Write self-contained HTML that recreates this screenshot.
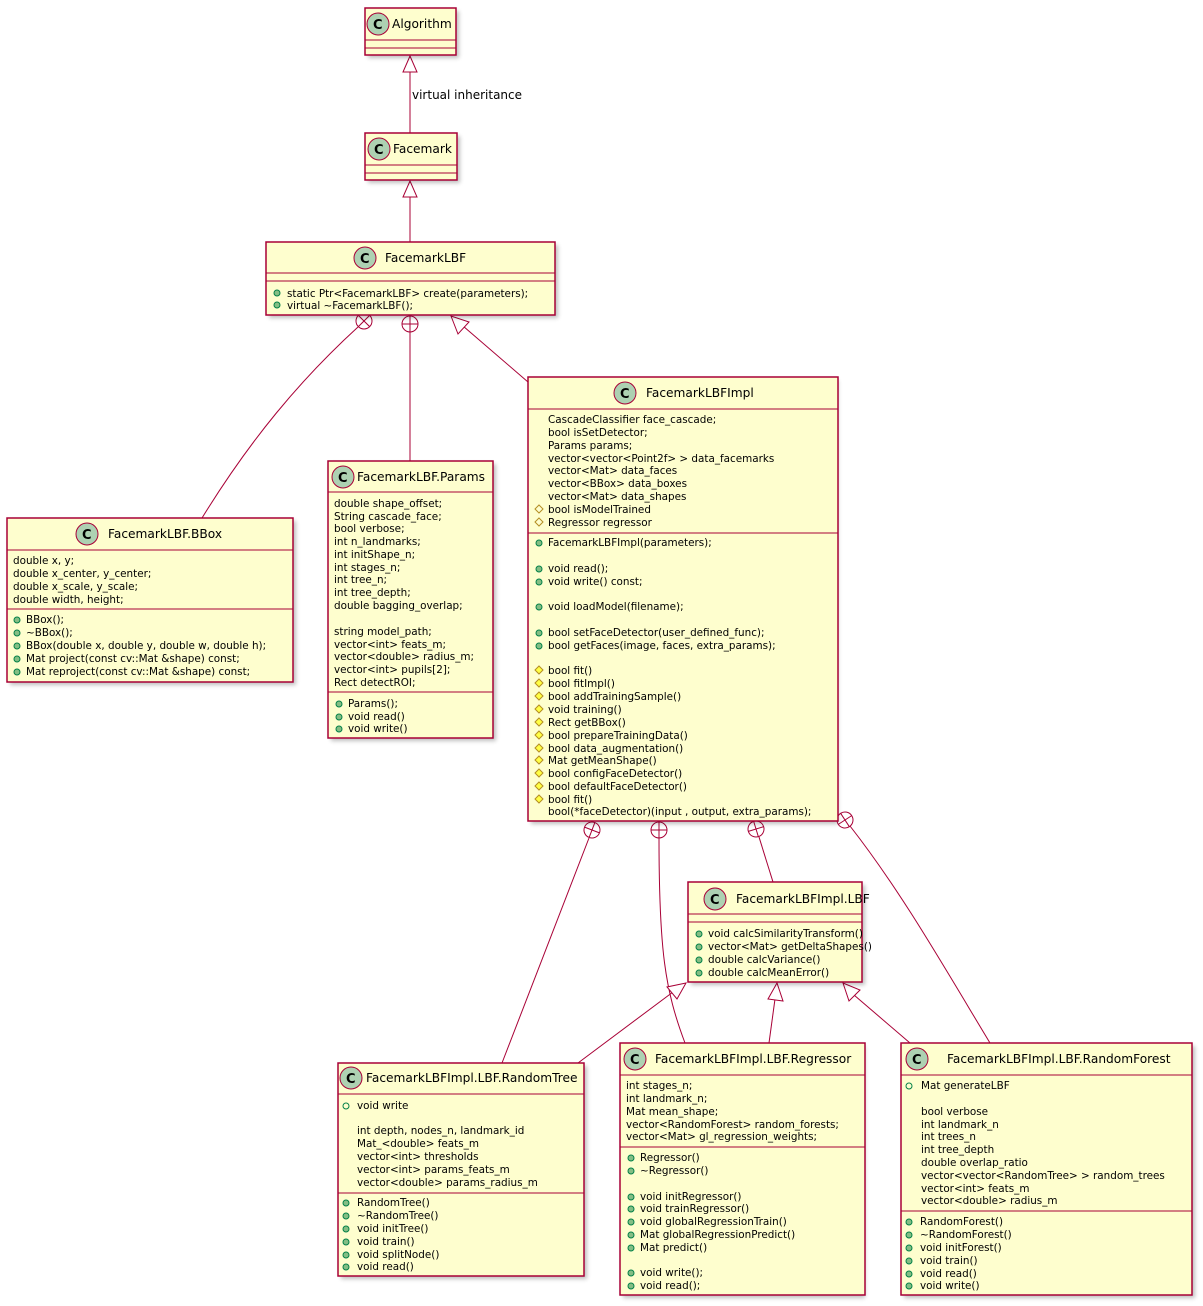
<!DOCTYPE html>
<html><head><meta charset="utf-8">
<style>
html,body{margin:0;padding:0;background:#fff;}
svg{display:block;}
text{font-family:"DejaVu Sans","Liberation Sans",sans-serif;font-size:10.4px;fill:#000;}
.h{font-size:12.2px;}
.c{font-size:13px;font-weight:bold;}
.box{fill:#FEFECE;stroke:#A80036;stroke-width:1.5;}
.sh{fill:#000;opacity:0.25;filter:url(#blur);}
.ln{stroke:#A80036;stroke-width:1;fill:none;}
.ic{fill:#ADD1B2;stroke:#A80036;stroke-width:1;}
.pm{fill:#84BE84;stroke:#038048;stroke-width:1;}
.pf{fill:none;stroke:#038048;stroke-width:1;}
.dm{fill:#FFFF44;stroke:#B38D22;stroke-width:1;}
.df{fill:none;stroke:#B38D22;stroke-width:1;}
.tri{fill:#fff;stroke:#A80036;stroke-width:1;}
.nc{fill:#fff;stroke:#A80036;stroke-width:1;}
</style></head><body>
<svg width="1203" height="1306" viewBox="0 0 1203 1306" xmlns="http://www.w3.org/2000/svg">
<defs>
<filter id="blur" x="-10%" y="-10%" width="120%" height="120%"><feGaussianBlur stdDeviation="2"/></filter>
<g id="pm"><circle cx="0" cy="0" r="3" class="pm"/></g>
<g id="pf"><circle cx="0" cy="0" r="3" class="pf"/></g>
<g id="dm"><polygon points="0,-4 4,0 0,4 -4,0" class="dm"/></g>
<g id="df"><polygon points="0,-4 4,0 0,4 -4,0" class="df"/></g>
</defs>

<!-- connectors -->
<line class="ln" x1="410" y1="72" x2="410" y2="133"/>
<polygon class="tri" points="410,56 403,72 417,72"/>
<text x="412" y="99" style="font-size:12px">virtual inheritance</text>

<line class="ln" x1="410" y1="197" x2="410" y2="242"/>
<polygon class="tri" points="410,181 403,197 417,197"/>

<path class="ln" d="M358,327 C300,380 250,440 202,518"/>
<g transform="translate(364,321) rotate(45)"><circle class="nc" r="8"/><line class="ln" x1="-8" y1="0" x2="8" y2="0"/><line class="ln" x1="0" y1="-8" x2="0" y2="8"/></g>

<line class="ln" x1="410" y1="332" x2="410" y2="461"/>
<g transform="translate(410,324)"><circle class="nc" r="8"/><line class="ln" x1="-8" y1="0" x2="8" y2="0"/><line class="ln" x1="0" y1="-8" x2="0" y2="8"/></g>

<line class="ln" x1="463" y1="326" x2="528" y2="382"/>
<polygon class="tri" points="451,316 458,334 469,322"/>

<line class="ln" x1="589" y1="838" x2="502" y2="1063"/>
<g transform="translate(592,830) rotate(21)"><circle class="nc" r="8"/><line class="ln" x1="-8" y1="0" x2="8" y2="0"/><line class="ln" x1="0" y1="-8" x2="0" y2="8"/></g>

<path class="ln" d="M659,838 C659,950 665,990 685,1043"/>
<g transform="translate(659,830)"><circle class="nc" r="8"/><line class="ln" x1="-8" y1="0" x2="8" y2="0"/><line class="ln" x1="0" y1="-8" x2="0" y2="8"/></g>

<line class="ln" x1="759" y1="837" x2="773" y2="882"/>
<g transform="translate(756,829) rotate(-17)"><circle class="nc" r="8"/><line class="ln" x1="-8" y1="0" x2="8" y2="0"/><line class="ln" x1="0" y1="-8" x2="0" y2="8"/></g>

<path class="ln" d="M850,826 C900,890 940,960 990,1043"/>
<g transform="translate(845,820) rotate(-33)"><circle class="nc" r="8"/><line class="ln" x1="-8" y1="0" x2="8" y2="0"/><line class="ln" x1="0" y1="-8" x2="0" y2="8"/></g>

<line class="ln" x1="673" y1="992" x2="578" y2="1063"/>
<polygon class="tri" points="686,983 667,987 677,999"/>
<line class="ln" x1="775" y1="999" x2="769" y2="1043"/>
<polygon class="tri" points="777,983 768,999 783,1001"/>
<line class="ln" x1="854" y1="995" x2="910" y2="1043"/>
<polygon class="tri" points="843,983 849,1001 860,990"/>

<!-- Algorithm -->
<rect class="sh" x="368" y="11" width="91" height="47"/>
<rect class="box" x="365" y="8" width="91" height="47"/>
<line class="ln" x1="365" y1="40" x2="456" y2="40"/><line class="ln" x1="365" y1="48" x2="456" y2="48"/>
<circle class="ic" cx="378" cy="24" r="11"/><text class="c" x="373" y="29">C</text>
<text class="h" x="392" y="28">Algorithm</text>

<!-- Facemark -->
<rect class="sh" x="368" y="136" width="92" height="47"/>
<rect class="box" x="365" y="133" width="92" height="47"/>
<line class="ln" x1="365" y1="165" x2="457" y2="165"/><line class="ln" x1="365" y1="173" x2="457" y2="173"/>
<circle class="ic" cx="379" cy="149" r="11"/><text class="c" x="374" y="154">C</text>
<text class="h" x="393" y="153">Facemark</text>

<!-- FacemarkLBF -->
<rect class="sh" x="269" y="245" width="289" height="73"/>
<rect class="box" x="266" y="242" width="289" height="73"/>
<line class="ln" x1="266" y1="273" x2="555" y2="273"/><line class="ln" x1="266" y1="281" x2="555" y2="281"/>
<circle class="ic" cx="365" cy="258" r="11"/><text class="c" x="360" y="263">C</text>
<text class="h" x="385" y="262">FacemarkLBF</text>
<use href="#pm" x="277" y="293"/><text x="287" y="297">static Ptr&lt;FacemarkLBF&gt; create(parameters);</text>
<use href="#pm" x="277" y="305"/><text x="287" y="309">virtual ~FacemarkLBF();</text>

<!-- BBox -->
<rect class="sh" x="10" y="521" width="286" height="164"/>
<rect class="box" x="7" y="518" width="286" height="164"/>
<line class="ln" x1="7" y1="550" x2="293" y2="550"/><line class="ln" x1="7" y1="609" x2="293" y2="609"/>
<circle class="ic" cx="87" cy="534" r="11"/><text class="c" x="82" y="539">C</text>
<text class="h" x="108" y="538">FacemarkLBF.BBox</text>
<text x="13" y="564">double x, y;</text>
<text x="13" y="577">double x_center, y_center;</text>
<text x="13" y="590">double x_scale, y_scale;</text>
<text x="13" y="603">double width, height;</text>
<use href="#pm" x="17" y="620"/><text x="26" y="623">BBox();</text>
<use href="#pm" x="17" y="633"/><text x="26" y="636">~BBox();</text>
<use href="#pm" x="17" y="646"/><text x="26" y="649">BBox(double x, double y, double w, double h);</text>
<use href="#pm" x="17" y="659"/><text x="26" y="662">Mat project(const cv::Mat &amp;shape) const;</text>
<use href="#pm" x="17" y="672"/><text x="26" y="675">Mat reproject(const cv::Mat &amp;shape) const;</text>

<!-- Params -->
<rect class="sh" x="331" y="464" width="165" height="277"/>
<rect class="box" x="328" y="461" width="165" height="277"/>
<line class="ln" x1="328" y1="492" x2="493" y2="492"/><line class="ln" x1="328" y1="692" x2="493" y2="692"/>
<circle class="ic" cx="343" cy="477" r="11"/><text class="c" x="338" y="482">C</text>
<text class="h" x="357" y="481">FacemarkLBF.Params</text>
<text x="334" y="507">double shape_offset;</text>
<text x="334" y="520">String cascade_face;</text>
<text x="334" y="532">bool verbose;</text>
<text x="334" y="545">int n_landmarks;</text>
<text x="334" y="558">int initShape_n;</text>
<text x="334" y="571">int stages_n;</text>
<text x="334" y="583">int tree_n;</text>
<text x="334" y="596">int tree_depth;</text>
<text x="334" y="609">double bagging_overlap;</text>
<text x="334" y="635">string model_path;</text>
<text x="334" y="648">vector&lt;int&gt; feats_m;</text>
<text x="334" y="660">vector&lt;double&gt; radius_m;</text>
<text x="334" y="673">vector&lt;int&gt; pupils[2];</text>
<text x="334" y="686">Rect detectROI;</text>
<use href="#pm" x="339" y="704"/><text x="348" y="707">Params();</text>
<use href="#pm" x="339" y="717"/><text x="348" y="720">void read()</text>
<use href="#pm" x="339" y="729"/><text x="348" y="732">void write()</text>

<!-- Impl -->
<rect class="sh" x="531" y="380" width="307" height="444"/>
<rect class="box" x="528" y="377" width="310" height="444"/>
<line class="ln" x1="528" y1="409" x2="838" y2="409"/><line class="ln" x1="528" y1="533" x2="838" y2="533"/>
<circle class="ic" cx="625" cy="393" r="11"/><text class="c" x="620" y="398">C</text>
<text class="h" x="646" y="397">FacemarkLBFImpl</text>
<text x="548" y="423">CascadeClassifier face_cascade;</text>
<text x="548" y="436">bool isSetDetector;</text>
<text x="548" y="449">Params params;</text>
<text x="548" y="462">vector&lt;vector&lt;Point2f&gt; &gt; data_facemarks</text>
<text x="548" y="474">vector&lt;Mat&gt; data_faces</text>
<text x="548" y="487">vector&lt;BBox&gt; data_boxes</text>
<text x="548" y="500">vector&lt;Mat&gt; data_shapes</text>
<use href="#df" x="539" y="509"/><text x="548" y="513">bool isModelTrained</text>
<use href="#df" x="539" y="522"/><text x="548" y="526">Regressor regressor</text>
<use href="#pm" x="539" y="543"/><text x="548" y="546">FacemarkLBFImpl(parameters);</text>
<use href="#pm" x="539" y="569"/><text x="548" y="572">void read();</text>
<use href="#pm" x="539" y="582"/><text x="548" y="585">void write() const;</text>
<use href="#pm" x="539" y="607"/><text x="548" y="610">void loadModel(filename);</text>
<use href="#pm" x="539" y="633"/><text x="548" y="636">bool setFaceDetector(user_defined_func);</text>
<use href="#pm" x="539" y="646"/><text x="548" y="649">bool getFaces(image, faces, extra_params);</text>
<use href="#dm" x="539" y="670"/><text x="548" y="674">bool fit()</text>
<use href="#dm" x="539" y="683"/><text x="548" y="687">bool fitImpl()</text>
<use href="#dm" x="539" y="696"/><text x="548" y="700">bool addTrainingSample()</text>
<use href="#dm" x="539" y="709"/><text x="548" y="713">void training()</text>
<use href="#dm" x="539" y="722"/><text x="548" y="726">Rect getBBox()</text>
<use href="#dm" x="539" y="735"/><text x="548" y="739">bool prepareTrainingData()</text>
<use href="#dm" x="539" y="748"/><text x="548" y="752">bool data_augmentation()</text>
<use href="#dm" x="539" y="760"/><text x="548" y="764">Mat getMeanShape()</text>
<use href="#dm" x="539" y="773"/><text x="548" y="777">bool configFaceDetector()</text>
<use href="#dm" x="539" y="786"/><text x="548" y="790">bool defaultFaceDetector()</text>
<use href="#dm" x="539" y="799"/><text x="548" y="803">bool fit()</text>
<text x="548" y="815">bool(*faceDetector)(input , output, extra_params);</text>

<!-- LBF -->
<rect class="sh" x="691" y="885" width="174" height="100"/>
<rect class="box" x="688" y="882" width="174" height="100"/>
<line class="ln" x1="688" y1="914" x2="862" y2="914"/><line class="ln" x1="688" y1="922" x2="862" y2="922"/>
<circle class="ic" cx="715" cy="899" r="11"/><text class="c" x="710" y="904">C</text>
<text class="h" x="736" y="903">FacemarkLBFImpl.LBF</text>
<use href="#pm" x="699" y="934"/><text x="708" y="937">void calcSimilarityTransform()</text>
<use href="#pm" x="699" y="947"/><text x="708" y="950">vector&lt;Mat&gt; getDeltaShapes()</text>
<use href="#pm" x="699" y="960"/><text x="708" y="963">double calcVariance()</text>
<use href="#pm" x="699" y="973"/><text x="708" y="976">double calcMeanError()</text>

<!-- RandomTree -->
<rect class="sh" x="341" y="1066" width="246" height="213"/>
<rect class="box" x="338" y="1063" width="246" height="213"/>
<line class="ln" x1="338" y1="1094" x2="584" y2="1094"/><line class="ln" x1="338" y1="1193" x2="584" y2="1193"/>
<circle class="ic" cx="351" cy="1078" r="11"/><text class="c" x="346" y="1083">C</text>
<text class="h" x="366" y="1082">FacemarkLBFImpl.LBF.RandomTree</text>
<use href="#pf" x="346" y="1106"/><text x="357" y="1109">void write</text>
<text x="357" y="1134">int depth, nodes_n, landmark_id</text>
<text x="357" y="1147">Mat_&lt;double&gt; feats_m</text>
<text x="357" y="1160">vector&lt;int&gt; thresholds</text>
<text x="357" y="1173">vector&lt;int&gt; params_feats_m</text>
<text x="357" y="1186">vector&lt;double&gt; params_radius_m</text>
<use href="#pm" x="346" y="1203"/><text x="357" y="1206">RandomTree()</text>
<use href="#pm" x="346" y="1216"/><text x="357" y="1219">~RandomTree()</text>
<use href="#pm" x="346" y="1229"/><text x="357" y="1232">void initTree()</text>
<use href="#pm" x="346" y="1242"/><text x="357" y="1245">void train()</text>
<use href="#pm" x="346" y="1255"/><text x="357" y="1258">void splitNode()</text>
<use href="#pm" x="346" y="1267"/><text x="357" y="1270">void read()</text>

<!-- Regressor -->
<rect class="sh" x="623" y="1046" width="242" height="252"/>
<rect class="box" x="620" y="1043" width="245" height="252"/>
<line class="ln" x1="620" y1="1075" x2="865" y2="1075"/><line class="ln" x1="620" y1="1147" x2="865" y2="1147"/>
<circle class="ic" cx="635" cy="1059" r="11"/><text class="c" x="630" y="1064">C</text>
<text class="h" x="655" y="1063">FacemarkLBFImpl.LBF.Regressor</text>
<text x="626" y="1089">int stages_n;</text>
<text x="626" y="1102">int landmark_n;</text>
<text x="626" y="1115">Mat mean_shape;</text>
<text x="626" y="1128">vector&lt;RandomForest&gt; random_forests;</text>
<text x="626" y="1140">vector&lt;Mat&gt; gl_regression_weights;</text>
<use href="#pm" x="631" y="1158"/><text x="640" y="1161">Regressor()</text>
<use href="#pm" x="631" y="1171"/><text x="640" y="1174">~Regressor()</text>
<use href="#pm" x="631" y="1197"/><text x="640" y="1200">void initRegressor()</text>
<use href="#pm" x="631" y="1209"/><text x="640" y="1212">void trainRegressor()</text>
<use href="#pm" x="631" y="1222"/><text x="640" y="1225">void globalRegressionTrain()</text>
<use href="#pm" x="631" y="1235"/><text x="640" y="1238">Mat globalRegressionPredict()</text>
<use href="#pm" x="631" y="1248"/><text x="640" y="1251">Mat predict()</text>
<use href="#pm" x="631" y="1273"/><text x="640" y="1276">void write();</text>
<use href="#pm" x="631" y="1286"/><text x="640" y="1289">void read();</text>

<!-- RandomForest -->
<rect class="sh" x="904" y="1046" width="291" height="252"/>
<rect class="box" x="901" y="1043" width="291" height="252"/>
<line class="ln" x1="901" y1="1075" x2="1192" y2="1075"/><line class="ln" x1="901" y1="1211" x2="1192" y2="1211"/>
<circle class="ic" cx="917" cy="1059" r="11"/><text class="c" x="912" y="1064">C</text>
<text class="h" x="947" y="1063">FacemarkLBFImpl.LBF.RandomForest</text>
<use href="#pf" x="909" y="1086"/><text x="921" y="1089">Mat generateLBF</text>
<text x="921" y="1115">bool verbose</text>
<text x="921" y="1128">int landmark_n</text>
<text x="921" y="1140">int trees_n</text>
<text x="921" y="1153">int tree_depth</text>
<text x="921" y="1166">double overlap_ratio</text>
<text x="921" y="1179">vector&lt;vector&lt;RandomTree&gt; &gt; random_trees</text>
<text x="921" y="1192">vector&lt;int&gt; feats_m</text>
<text x="921" y="1204">vector&lt;double&gt; radius_m</text>
<use href="#pm" x="909" y="1222"/><text x="920" y="1225">RandomForest()</text>
<use href="#pm" x="909" y="1235"/><text x="920" y="1238">~RandomForest()</text>
<use href="#pm" x="909" y="1248"/><text x="920" y="1251">void initForest()</text>
<use href="#pm" x="909" y="1261"/><text x="920" y="1264">void train()</text>
<use href="#pm" x="909" y="1274"/><text x="920" y="1277">void read()</text>
<use href="#pm" x="909" y="1286"/><text x="920" y="1289">void write()</text>
</svg>
</body></html>
